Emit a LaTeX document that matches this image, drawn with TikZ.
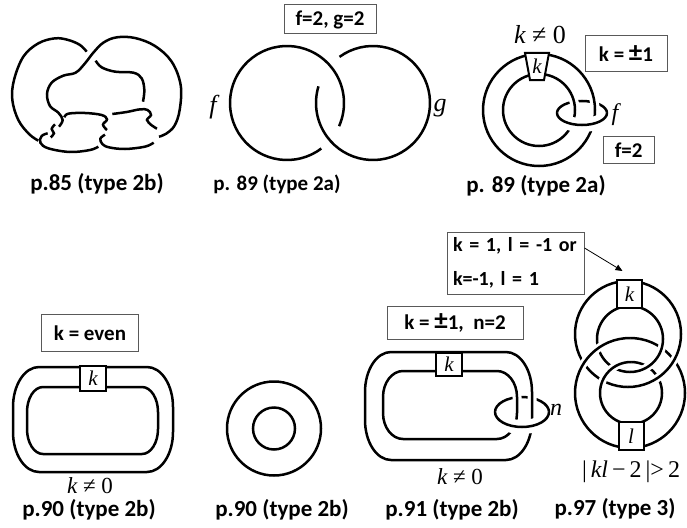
\documentclass[tikz,border=0pt]{standalone}
\usepackage{fontspec}
\setmainfont{Liberation Serif}
\setsansfont{Carlito}
\usetikzlibrary{arrows.meta, positioning}

% rounded band with elliptic corners: x1, y1, x2, y2, rx, ry
\newcommand{\bandpath}[6]{(#1+#5,#2) -- (#3-#5,#2)
  arc[start angle=-90, end angle=0, x radius=#5, y radius=#6] -- (#3,#4-#6)
  arc[start angle=0, end angle=90, x radius=#5, y radius=#6] -- (#1+#5,#4)
  arc[start angle=90, end angle=180, x radius=#5, y radius=#6] -- (#1,#2+#6)
  arc[start angle=180, end angle=270, x radius=#5, y radius=#6] -- cycle}
\newcommand{\bigpm}{{\fontsize{27}{27}\selectfont ±}}

\tikzset{
  knot/.style={line width=2.5pt},
  overpass/.style={preaction={draw=white, line width=#1, line cap=butt}},
  overpass/.default=9pt,
  cond/.style={draw=black!65, line width=1pt, fill=white, inner sep=0pt,
    font=\sffamily\bfseries\fontsize{21}{25}\selectfont},
  caption/.style={font=\sffamily\bfseries\fontsize{23}{27}\selectfont},
  var/.style={font=\itshape\fontsize{24}{28}\selectfont},
  twist/.style={draw, line width=2pt, fill=white, inner sep=0pt,
    font=\itshape\fontsize{21}{25}\selectfont},
}

\begin{document}
\begin{tikzpicture}[x=1pt, y=-1pt]
\useasboundingbox (0,0) rectangle (687,527);

% p.85
\begin{scope}[shift={(5,30)}, scale=1/3]
\draw[knot] plot[smooth, tension=0.6] coordinates {(245,65) (225,45) (190,30) (150,25) (100,40) (55,80) (27,150) (22,210) (40,270) (72,312) (100,332)};
\draw[knot] plot[smooth, tension=0.6] coordinates {(162,290) (173,270) (160,248) (135,228) (126,192) (140,158) (175,137) (212,128) (240,100) (265,68) (295,38) (335,22) (390,24) (450,48) (500,95) (527,165) (524,240) (508,288) (482,312) (462,320)};
\draw[knot] plot[smooth, tension=0.6] coordinates {(272,92) (290,112) (330,125) (385,128) (410,145) (418,180) (414,215)};
\draw[knot] plot[smooth, tension=0.6] coordinates {(178,262) (190,251) (240,249) (290,255) (306,268) (294,284) (306,300)};
\draw[knot] plot[smooth, tension=0.6] coordinates {(300,314) (286,326) (292,342) (312,352) (360,357) (420,350) (446,338)};
\draw[knot] plot[smooth, tension=0.6] coordinates {(322,252) (365,246) (405,238) (428,240) (438,255) (426,270) (440,286) (456,296)};
\draw[knot] plot[smooth, tension=0.6] coordinates {(128,310) (110,318) (106,338) (130,355) (195,366) (255,360) (280,350)};
\draw[knot] plot[smooth, tension=0.6] coordinates {(150,283) (140,297) (147,310) (137,322)};
\end{scope}
\node[caption] (c85) at (97,184) {p.85 (type 2b)};

% p.89, two circles
\coordinate (hf) at (287,103);
\coordinate (hg) at (373,103);
\draw[knot] (hf) ++(53:57) arc[start angle=53, end angle=384, radius=57];
\draw[knot] (hg) ++(234:57) arc[start angle=234, end angle=557, radius=57];
\node[cond, minimum width=92pt, minimum height=29pt] (fg) at (330,19.5) {f=2, g=2};
\node[var, font=\itshape\fontsize{26}{30}\selectfont] (f) at (213,107) {f};
\node[var, font=\itshape\fontsize{26}{30}\selectfont] (g) at (440,108) {g};
\node[caption, font=\sffamily\bfseries\fontsize{21}{25}\selectfont] (c89a) at (277,184) {p. 89 (type 2a)};

% p.89, band with clasp
\coordinate (ac) at (539,110);
\coordinate (ec) at (582,113);
\draw[knot] (ec) ++(180:25 and 12) arc[start angle=180, end angle=360, x radius=25, y radius=12];
\draw[knot, overpass] (ac) circle[radius=56];
\draw[knot, overpass] (ac) circle[radius=36];
\draw[knot, overpass=14pt] (ec) ++(0:25 and 12) arc[start angle=0, end angle=180, x radius=25, y radius=12];
\draw[line width=2pt, fill=white] (525,53) -- (549,53) -- (544,80) -- (530,80) -- cycle;
\node[var, font=\itshape\fontsize{21}{25}\selectfont] (k89) at (537,66) {k};
\node[var, font=\itshape\fontsize{26}{30}\selectfont] (kne89) at (540,35) {k\ {\upshape ≠\ 0}};
\node[cond, minimum width=82pt, minimum height=35pt] (kpm) at (626,53.5) {k = \bigpm1};
\node[var] (f89) at (615,115) {f};
\node[cond, minimum width=51pt, minimum height=27pt] (ftwo) at (628.7,150) {f=2};
\node[caption] (c89b) at (536,186) {p. 89 (type 2a)};

% p.90, band
\draw[knot] \bandpath{13}{367}{173}{472}{26}{40};
\draw[knot] \bandpath{27}{387}{158}{454}{16}{25};
\node[twist, minimum width=26pt, minimum height=25pt] (k90) at (93,378) {k};
\node[cond, minimum width=97pt, minimum height=37pt] (even) at (90,333) {k = even};
\node[var, font=\itshape\fontsize{23}{26}\selectfont, inner sep=0pt] (kne90) at (90,486) {k\ {\upshape ≠\ 0}};
\node[caption, inner sep=0pt] (c90a) at (89,510) {p.90 (type 2b)};

% p.90, annulus
\coordinate (rc) at (274,428.5);
\draw[knot] (rc) circle[radius=47] (rc) circle[radius=21];
\node[caption, inner sep=0pt] (c90b) at (282,510) {p.90 (type 2b)};

% p.91, band with clasp
\coordinate (nc) at (522,412);
\draw[knot] (nc) ++(180:27 and 15) arc[start angle=180, end angle=360, x radius=27, y radius=15];
\draw[knot, overpass] \bandpath{365}{352}{532}{460}{26}{40};
\draw[knot, overpass] \bandpath{383}{371}{517}{439}{20}{26};
\draw[knot, overpass=14pt] (nc) ++(0:27 and 15) arc[start angle=0, end angle=180, x radius=27, y radius=15];
\node[twist, minimum width=26pt, minimum height=23pt] (k91) at (449,364) {k};
\node[cond, minimum width=136pt, minimum height=33pt] (kn) at (455,323) {k = \bigpm1,\ \ n=2};
\node[var] (n) at (556,410) {n};
\node[var, font=\itshape\fontsize{23}{26}\selectfont] (kne91) at (460,477) {k\ {\upshape ≠\ 0}};
\node[caption, inner sep=0pt] (c91) at (452,510) {p.91 (type 2b)};

% p.97, two linked bands
\coordinate (uo) at (628,334);
\coordinate (ui) at (630,339);
\coordinate (lo) at (630,393);
\coordinate (li) at (631,393);
\draw[knot] (uo) ++(90:53) arc[start angle=90, end angle=270, radius=53];
\draw[knot] (ui) ++(90:33) arc[start angle=90, end angle=270, radius=33];
\draw[knot] (lo) ++(-90:55) arc[start angle=-90, end angle=90, radius=55];
\draw[knot] (li) ++(-90:31) arc[start angle=-90, end angle=90, radius=31];
\draw[knot, overpass=8pt] (lo) ++(90:55) arc[start angle=90, end angle=270, radius=55];
\draw[knot, overpass=8pt] (li) ++(90:31) arc[start angle=90, end angle=270, radius=31];
\draw[knot, overpass=8pt] (uo) ++(-90:53) arc[start angle=-90, end angle=90, radius=53];
\draw[knot, overpass=8pt] (ui) ++(-90:33) arc[start angle=-90, end angle=90, radius=33];
\node[twist, minimum width=25pt, minimum height=28pt] (k97) at (629.5,294) {k};
\node[twist, minimum width=25pt, minimum height=28pt] (l97) at (631,436) {l};
\node[var, font=\fontsize{24}{28}\selectfont] (kl) at (631,472) {|\,\textit{kl}\,−\,2\,|>\,2};
\node[cond, text width=125pt, minimum height=62pt, inner xsep=6pt, align=left,
  font=\sffamily\bfseries\fontsize{20}{34}\selectfont] (klbox) at (515.5,263) {k = 1, l = -1 or\\k=-1, l = 1};
\draw[-{Triangle[length=7pt, width=6pt]}, line width=0.8pt] ([yshift=15pt]klbox.east) -- ([shift={(-7pt,8pt)}]k97.north);
\node[caption, inner sep=0pt] (c97) at (615,509) {p.97 (type 3)};
\end{tikzpicture}
\end{document}
